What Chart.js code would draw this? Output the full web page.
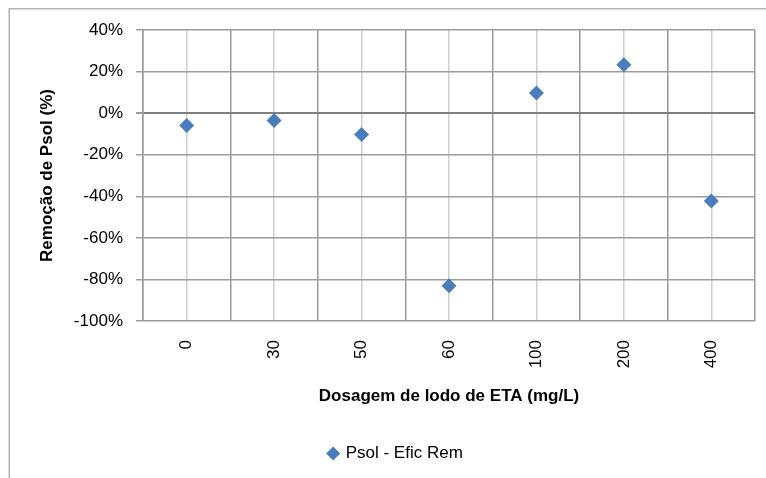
<!DOCTYPE html>
<html>
<head>
<meta charset="utf-8">
<script src="https://cdn.jsdelivr.net/npm/chart.js@4"></script>
<style>
  html, body { margin: 0; padding: 0; background: #fff; }
  #wrap { width: 766px; height: 478px; }
</style>
</head>
<body>
<div id="wrap"><canvas id="chartPsol" width="766" height="478"></canvas></div>
<script>
  // ===== Datos =====
  const dosagens = ['0', '30', '50', '60', '100', '200', '400'];
  const remocao = [-6, -3.5, -10.3, -83, 9.7, 23.3, -42.3];   // % remoção Psol
  const yMin = -100, yMax = 40, yStep = 20;

  const FONT = "'Liberation Sans', Arial, sans-serif";
  const AZUL = '#4a7ebb';

  // borda externa do gráfico (parcial, como no original)
  const chartFrame = {
    id: 'chartFrame',
    beforeDraw(chart){
      const ctx = chart.ctx;
      ctx.save();
      ctx.fillStyle = '#fff';
      ctx.fillRect(0, 0, chart.width, chart.height);
      ctx.strokeStyle = '#b2b2b2';
      ctx.lineWidth = 1.5;
      ctx.beginPath();
      ctx.moveTo(9.25, chart.height);
      ctx.lineTo(9.25, 8.75);
      ctx.lineTo(chart.width, 8.75);
      ctx.stroke();
      ctx.restore();
    }
  };

  new Chart(document.getElementById('chartPsol'), {
    type: 'line',
    data: {
      labels: dosagens,
      datasets: [{
        label: 'Psol - Efic Rem',
        data: remocao,
        showLine: false,
        backgroundColor: AZUL,
        borderColor: AZUL,
        borderWidth: 0,
        pointStyle: 'rectRot',
        pointRadius: 7.5,
        pointBackgroundColor: AZUL,
        pointBorderWidth: 0
      }]
    },
    options: {
      responsive: false,
      animation: false,
      devicePixelRatio: 1,
      layout: { padding: { left: 37, right: 11, top: 30, bottom: 6 } },
      plugins: {
        tooltip: { enabled: false },
        legend: {
          position: 'bottom',
          labels: {
            usePointStyle: true,
            pointStyle: 'rectRot',
            boxWidth: 8,
            boxHeight: 10,
            padding: 10,
            color: '#000',
            font: { family: FONT, size: 17 }
          }
        }
      },
      scales: {
        x: {
          type: 'category',
          offset: true,
          grid: { offset: true, color: '#999', lineWidth: 1.5, drawTicks: false },
          border: { display: false },
          ticks: {
            minRotation: 90, maxRotation: 90, autoSkip: false, padding: 19,
            color: '#000', font: { family: FONT, size: 17 }
          },
          title: {
            display: true,
            text: 'Dosagem de lodo de ETA (mg/L)',
            color: '#000',
            font: { family: FONT, size: 17, weight: 'bold' },
            padding: { top: 4, bottom: 28 }
          },
          afterFit(scale){ scale.height = 114; }
        },
        x2: {
          type: 'category',
          position: 'bottom',
          offset: true,
          grid: { offset: false, color: '#cfcfcf', lineWidth: 1.5, drawTicks: false },
          border: { display: false },
          ticks: { display: false },
          afterFit(scale){ scale.height = 0; }
        },
        y: {
          min: yMin,
          max: yMax,
          grid: {
            color: (c) => c.tick && c.tick.value === 0 ? '#7f7f7f' : '#9c9c9c',
            lineWidth: (c) => c.tick && c.tick.value === 0 ? 2 : 1.5,
            tickLength: 7,
            tickColor: '#9c9c9c'
          },
          border: { display: true, color: '#999', width: 1.5 },
          ticks: {
            stepSize: yStep,
            padding: 13,
            color: '#000',
            font: { family: FONT, size: 17 },
            callback: (v) => v + '%'
          },
          title: {
            display: true,
            text: 'Remoção de Psol (%)',
            color: '#000',
            font: { family: FONT, size: 17, weight: 'bold' },
            padding: { top: 0, bottom: 0 }
          },
          afterFit(scale){ scale.width = 106; }
        }
      }
    },
    plugins: [chartFrame]
  });
</script>
</body>
</html>
